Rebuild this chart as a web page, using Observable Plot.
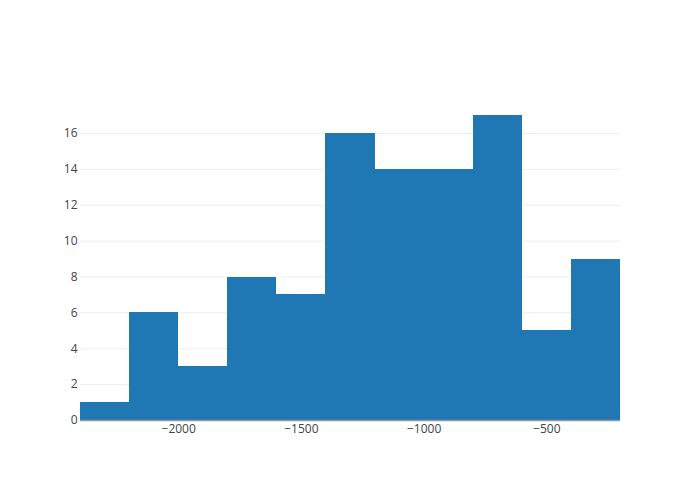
<!DOCTYPE html>
<html>
<head>
<meta charset="utf-8">
<script src="https://cdn.jsdelivr.net/npm/d3@7"></script>
<script src="https://cdn.jsdelivr.net/npm/@observablehq/plot@0.6"></script>
<style>
  html, body { margin: 0; padding: 0; background: #fff; }
  #chart { width: 700px; height: 500px; }
</style>
</head>
<body>
<div id="chart"></div>
<script>
const binStart = [-2400, -2200, -2000, -1800, -1600, -1400, -1200, -1000, -800, -600, -400];
const binEnd   = [-2200, -2000, -1800, -1600, -1400, -1200, -1000, -800, -600, -400, -200];
const counts   = [1, 6, 3, 8, 7, 16, 14, 14, 17, 5, 9];
const xTicks = [-2000, -1500, -1000, -500];
const yTicks = [0, 2, 4, 6, 8, 10, 12, 14, 16];

const data = binStart.map((s, i) => ({x1: s, x2: binEnd[i], y: counts[i]}));

const chart = Plot.plot({
  width: 700,
  height: 500,
  marginTop: 100,
  marginBottom: 80,
  marginLeft: 80,
  marginRight: 80,
  style: {fontFamily: "'Open Sans', sans-serif", fontSize: "12px", color: "#444", background: "#fff"},
  x: {domain: [-2400, -200], ticks: xTicks, tickSize: 0, tickPadding: 4, tickFormat: d3.format("d"), label: null},
  y: {domain: [0, 17.84], ticks: yTicks, tickSize: 0, tickPadding: 3, label: null},
  marks: [
    Plot.gridY(yTicks.filter(d => d > 0), {stroke: "#eee", strokeOpacity: 1, strokeWidth: 1}),
    Plot.rectY(data, {x1: "x1", x2: "x2", y: "y", fill: "#1f77b4", inset: 0, shapeRendering: "crispEdges"}),
    Plot.ruleY([0], {stroke: "#999", strokeWidth: 1.5})
  ]
});
document.getElementById("chart").appendChild(chart);
</script>
</body>
</html>
